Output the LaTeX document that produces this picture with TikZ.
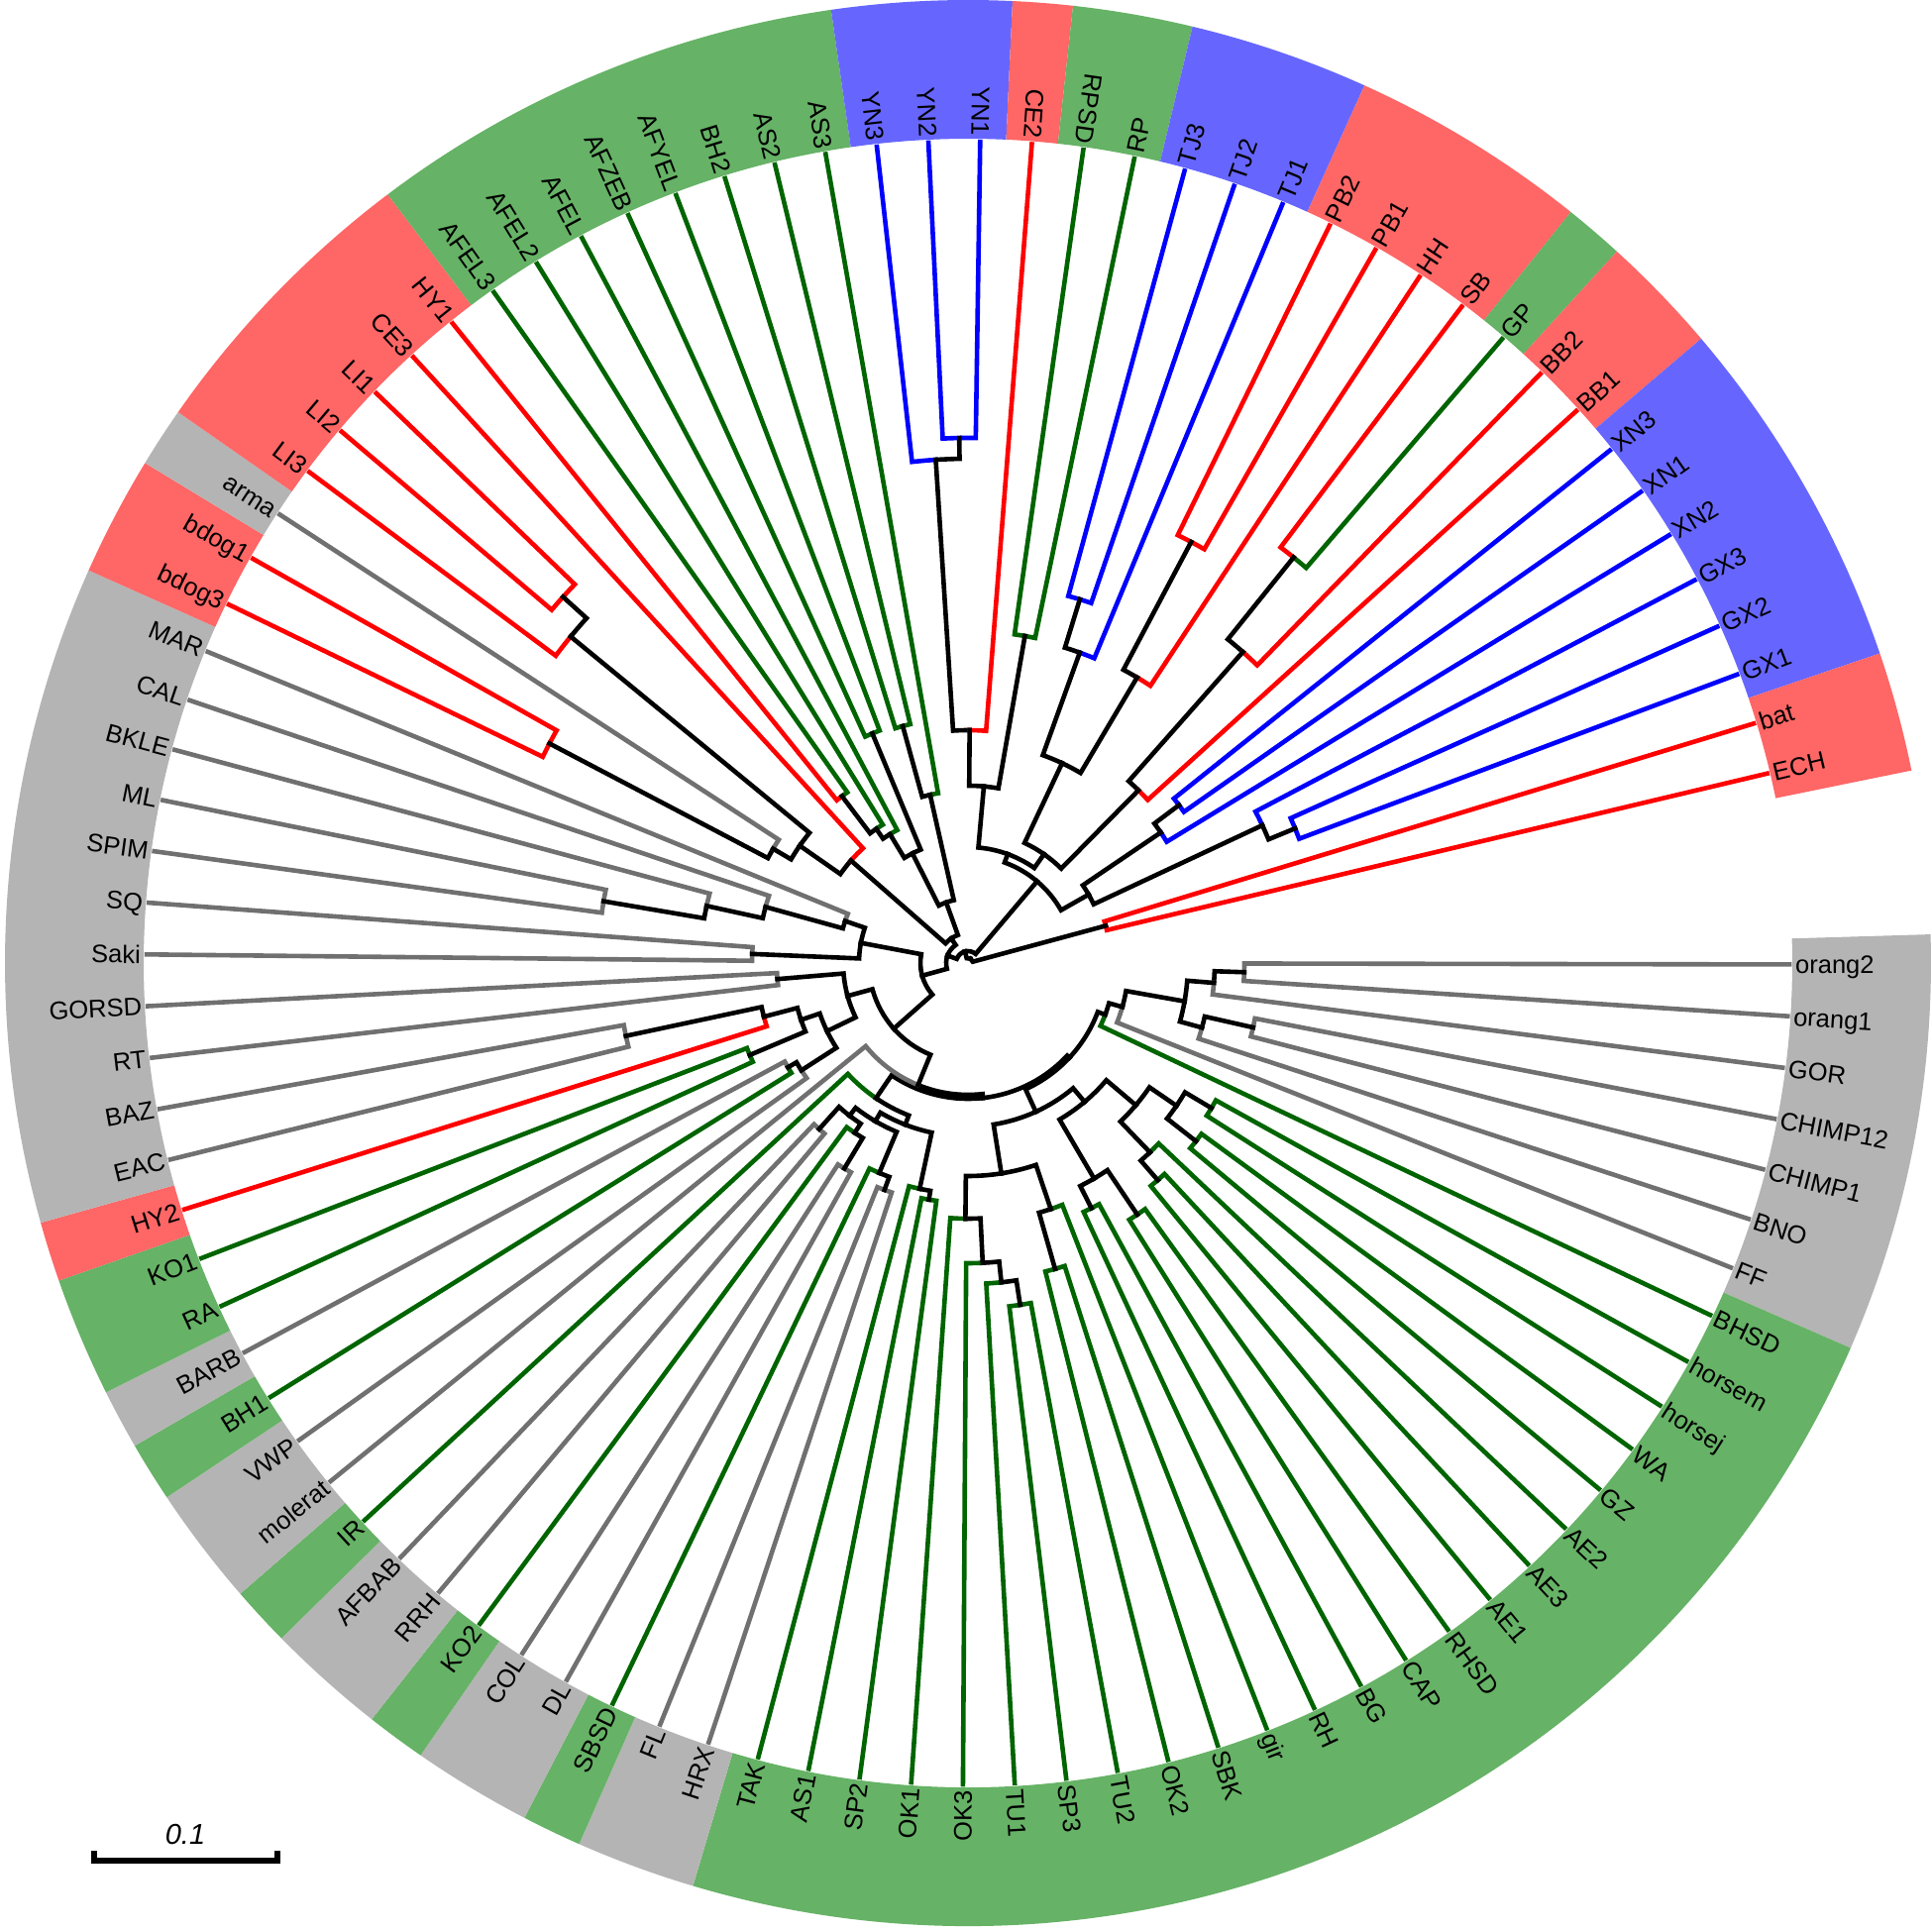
\documentclass[tikz,border=0pt]{standalone}
\usepackage{fontspec}
\setmainfont{Liberation Sans}
\usepackage{xcolor}
\usepackage{tikz}
\usetikzlibrary{calc}

\definecolor{trred}{RGB}{255,0,0}
\definecolor{trblue}{RGB}{0,0,255}
\definecolor{trgreen}{RGB}{0,100,0}
\definecolor{trgray}{RGB}{112,112,112}
\definecolor{bred}{RGB}{255,102,102}
\definecolor{bblue}{RGB}{102,102,255}
\definecolor{bgreen}{RGB}{102,178,102}
\definecolor{bgray}{RGB}{180,180,180}

% leaf: name, index, colour, text
\newcommand\leaf[4]{%
	\pgfmathsetmacro\tkang{359.9-(#2-1)*3.61}%
	\pgfmathsetmacro\tkrot{\tkang-180}%
	\expandafter\xdef\csname ta@#1\endcsname{\tkang}%
	\expandafter\xdef\csname tr@#1\endcsname{829}%
	\expandafter\xdef\csname tc@#1\endcsname{#3}%
	\coordinate (#1) at (\tkang:829pt);
	\ifnum#2<26 \def\tkflip{0}\else\ifnum#2>78 \def\tkflip{0}\else\def\tkflip{1}\fi\fi
	\ifnum\tkflip=1
		\node[lab,anchor=east,rotate=\tkrot] (t#1) at (\tkang:835pt) {#4};
	\else
		\node[lab,anchor=west,rotate=\tkang] (t#1) at (\tkang:835pt) {#4};
	\fi}
% branch from parent to child
\newcommand\edge[2]{%
	\edef\pa{\csname ta@#1\endcsname}\edef\pr{\csname tr@#1\endcsname}%
	\edef\ca{\csname ta@#2\endcsname}\edef\cc{\csname tc@#2\endcsname}%
	\draw[branch,draw=\cc] (#1) arc[start angle=\pa,end angle=\ca,radius=\pr pt] -- (#2);}
% clade: name, radius, child, child
\newcommand\clade[4]{%
	\pgfmathsetmacro\tkang{(\csname ta@#3\endcsname+\csname ta@#4\endcsname)/2}%
	\expandafter\xdef\csname ta@#1\endcsname{\tkang}%
	\expandafter\xdef\csname tr@#1\endcsname{#2}%
	\expandafter\xdef\csname tc@#1\endcsname{black}%
	\coordinate (#1) at (\tkang:#2pt);
	\edge{#1}{#3}\edge{#1}{#4}}
% coloured band: first index, last index, colour
\newcommand\band[3]{%
	\pgfmathsetmacro\bda{359.9-(#1-1)*3.61+1.805}%
	\pgfmathsetmacro\bdb{359.9-(#2-1)*3.61-1.805}%
	\fill[#3] (\bda:832pt) arc[start angle=\bda,end angle=\bdb,radius=832pt]
		-- (\bdb:972pt) arc[start angle=\bdb,end angle=\bda,radius=972pt] -- cycle;}

\begin{document}
\begin{tikzpicture}
	\tikzstyle{lab}=[font=\fontsize{25.5pt}{27pt}\selectfont, inner sep=0pt, text height=18pt, text depth=0pt]
	\tikzstyle{branch}=[line width=4.6pt, line join=miter, line cap=rect]
	\useasboundingbox (-977pt,-978pt) rectangle (973pt,972pt);

	% bands
	\band{1}{7}{bgray}	\band{8}{30}{bgreen}	\band{31}{32}{bgray}	\band{33}{33}{bgreen}
	\band{34}{35}{bgray}	\band{36}{36}{bgreen}	\band{37}{38}{bgray}	\band{39}{39}{bgreen}
	\band{40}{41}{bgray}	\band{42}{42}{bgreen}	\band{43}{43}{bgray}	\band{44}{45}{bgreen}
	\band{46}{46}{bred}	\band{47}{57}{bgray}	\band{58}{59}{bred}	\band{60}{60}{bgray}
	\band{61}{65}{bred}	\band{66}{73}{bgreen}	\band{74}{76}{bblue}	\band{77}{77}{bred}
	\band{78}{79}{bgreen}	\band{80}{82}{bblue}	\band{83}{86}{bred}	\band{87}{87}{bgreen}
	\band{88}{89}{bred}	\band{90}{95}{bblue}	\band{96}{97}{bred}

	% leaves
	\leaf{orang2}{1}{trgray}{orang2}	\leaf{orang1}{2}{trgray}{orang1}
	\leaf{GOR}{3}{trgray}{GOR}	\leaf{CHIMP12}{4}{trgray}{CHIMP12}
	\leaf{CHIMP1}{5}{trgray}{CHIMP1}	\leaf{BNO}{6}{trgray}{BNO}
	\leaf{FF}{7}{trgray}{FF}	\leaf{BHSD}{8}{trgreen}{BHSD}
	\leaf{horsem}{9}{trgreen}{horsem}	\leaf{horsej}{10}{trgreen}{horsej}
	\leaf{WA}{11}{trgreen}{WA}	\leaf{GZ}{12}{trgreen}{GZ}
	\leaf{AE2}{13}{trgreen}{AE2}	\leaf{AE3}{14}{trgreen}{AE3}
	\leaf{AE1}{15}{trgreen}{AE1}	\leaf{RHSD}{16}{trgreen}{RHSD}
	\leaf{CAP}{17}{trgreen}{CAP}	\leaf{BG}{18}{trgreen}{BG}
	\leaf{RH}{19}{trgreen}{RH}	\leaf{gir}{20}{trgreen}{gir}
	\leaf{SBK}{21}{trgreen}{SBK}	\leaf{OK2}{22}{trgreen}{OK2}
	\leaf{TU2}{23}{trgreen}{TU2}	\leaf{SP3}{24}{trgreen}{SP3}
	\leaf{TU1}{25}{trgreen}{TU1}	\leaf{OK3}{26}{trgreen}{OK3}
	\leaf{OK1}{27}{trgreen}{OK1}	\leaf{SP2}{28}{trgreen}{SP2}
	\leaf{AS1}{29}{trgreen}{AS1}	\leaf{TAK}{30}{trgreen}{TAK}
	\leaf{HRX}{31}{trgray}{HRX}	\leaf{FL}{32}{trgray}{FL}
	\leaf{SBSD}{33}{trgreen}{SBSD}	\leaf{DL}{34}{trgray}{DL}
	\leaf{COL}{35}{trgray}{COL}	\leaf{KO2}{36}{trgreen}{KO2}
	\leaf{RRH}{37}{trgray}{RRH}	\leaf{AFBAB}{38}{trgray}{AFBAB}
	\leaf{IR}{39}{trgreen}{IR}	\leaf{molerat}{40}{trgray}{molerat}
	\leaf{VWP}{41}{trgray}{VWP}	\leaf{BH1}{42}{trgreen}{BH1}
	\leaf{BARB}{43}{trgray}{BARB}	\leaf{RA}{44}{trgreen}{RA}
	\leaf{KO1}{45}{trgreen}{KO1}	\leaf{HY2}{46}{trred}{HY2}
	\leaf{EAC}{47}{trgray}{EAC}	\leaf{BAZ}{48}{trgray}{BAZ}
	\leaf{RT}{49}{trgray}{RT}	\leaf{GORSD}{50}{trgray}{GORSD}
	\leaf{Saki}{51}{trgray}{Saki}	\leaf{SQ}{52}{trgray}{SQ}
	\leaf{SPIM}{53}{trgray}{SPIM}	\leaf{ML}{54}{trgray}{ML}
	\leaf{BKLE}{55}{trgray}{BKLE}	\leaf{CAL}{56}{trgray}{CAL}
	\leaf{MAR}{57}{trgray}{MAR}	\leaf{bdog3}{58}{trred}{bdog3}
	\leaf{bdog1}{59}{trred}{bdog1}	\leaf{arma}{60}{trgray}{arma}
	\leaf{LI3}{61}{trred}{LI3}	\leaf{LI2}{62}{trred}{LI2}
	\leaf{LI1}{63}{trred}{LI1}	\leaf{CE3}{64}{trred}{CE3}
	\leaf{HY1}{65}{trred}{HY1}	\leaf{AFEL3}{66}{trgreen}{AFEL3}
	\leaf{AFEL2}{67}{trgreen}{AFEL2}	\leaf{AFEL}{68}{trgreen}{AFEL}
	\leaf{AFZEB}{69}{trgreen}{AFZEB}	\leaf{AFYEL}{70}{trgreen}{AFYEL}
	\leaf{BH2}{71}{trgreen}{BH2}	\leaf{AS2}{72}{trgreen}{AS2}
	\leaf{AS3}{73}{trgreen}{AS3}	\leaf{YN3}{74}{trblue}{YN3}
	\leaf{YN2}{75}{trblue}{YN2}	\leaf{YN1}{76}{trblue}{YN1}
	\leaf{CE2}{77}{trred}{CE2}	\leaf{RPSD}{78}{trgreen}{RPSD}
	\leaf{RP}{79}{trgreen}{RP}	\leaf{TJ3}{80}{trblue}{TJ3}
	\leaf{TJ2}{81}{trblue}{TJ2}	\leaf{TJ1}{82}{trblue}{TJ1}
	\leaf{PB2}{83}{trred}{PB2}	\leaf{PB1}{84}{trred}{PB1}
	\leaf{HH}{85}{trred}{HH}	\leaf{SB}{86}{trred}{SB}
	\leaf{GP}{87}{trgreen}{GP}	\leaf{BB2}{88}{trred}{BB2}
	\leaf{BB1}{89}{trred}{BB1}	\leaf{XN3}{90}{trblue}{XN3}
	\leaf{XN1}{91}{trblue}{XN1}	\leaf{XN2}{92}{trblue}{XN2}
	\leaf{GX3}{93}{trblue}{GX3}	\leaf{GX2}{94}{trblue}{GX2}
	\leaf{GX1}{95}{trblue}{GX1}	\leaf{bat}{96}{trred}{bat}
	\leaf{ECH}{97}{trred}{ECH}

	% apes
	\clade{h1}{279}{orang2}{orang1}	\clade{h2}{249}{h1}{GOR}
	\clade{h3}{295}{CHIMP12}{CHIMP1}	\clade{h4}{245}{h3}{BNO}
	\clade{h5}{222}{h2}{h4}	\clade{h6}{162}{h5}{FF}
	\clade{h7}{148}{h6}{BHSD}
	% lower right
	\clade{q1}{286}{horsem}{horsej}	\clade{q2}{292}{WA}{GZ}
	\clade{q3}{255}{q1}{q2}	\clade{q4}{291}{AE3}{AE1}
	\clade{q5}{265}{AE2}{q4}	\clade{q6}{222}{q3}{q5}
	\clade{q7}{306}{RHSD}{CAP}	\clade{q8}{277}{BG}{RH}
	\clade{q9}{252}{q7}{q8}	\clade{q10}{183}{q6}{q9}
	\clade{q11}{321}{SBK}{OK2}	\clade{q12}{262}{gir}{q11}
	\clade{q13}{349}{TU2}{SP3}	\clade{q14}{324}{q13}{TU1}
	\clade{q15}{303}{q14}{OK3}	\clade{q16}{258}{q15}{OK1}
	\clade{q17}{215}{q12}{q16}	\clade{q18}{165}{q10}{q17}
	\clade{hq}{140}{h7}{q18}
	% bottom
	\clade{b1}{242}{AS1}{SP2}	\clade{b2}{233}{TAK}{b1}
	\clade{b3}{244}{HRX}{FL}	\clade{b4}{230}{b3}{SBSD}
	\clade{b5}{242}{DL}{COL}	\clade{b6}{206}{b5}{KO2}
	\clade{b7}{225}{RRH}{AFBAB}	\clade{b8}{195}{b6}{b7}
	\clade{b9}{185}{b4}{b8}	\clade{b10}{175}{b2}{b9}
	\clade{b11}{165}{b10}{IR}	\clade{big1}{137}{hq}{b11}
	\clade{big}{133}{big1}{molerat}
	% lower left
	\clade{l1}{353}{BAZ}{EAC}	\clade{l2}{213}{l1}{HY2}
	\clade{l3}{239}{KO1}{RA}	\clade{l4}{178}{l2}{l3}
	\clade{l5}{210}{BARB}{BH1}	\clade{l6}{200}{l5}{VWP}
	\clade{l7}{158}{l4}{l6}	\clade{l8}{193}{GORSD}{RT}
	\clade{l9}{126}{l8}{l7}	\clade{a1}{100}{big}{l9}
	% left
	\clade{g1}{373}{SPIM}{ML}	\clade{g2}{270}{g1}{BKLE}
	\clade{g3}{212}{g2}{CAL}	\clade{g4}{131}{g3}{MAR}
	\clade{g5}{218}{Saki}{SQ}	\clade{g6}{110}{g5}{g4}
	\clade{a2}{48}{a1}{g6}
	% upper left
	\clade{x1}{477}{bdog3}{bdog1}	\clade{x2}{228}{x1}{arma}
	\clade{x3}{551}{LI2}{LI1}	\clade{x4}{519}{LI3}{x3}
	\clade{x5}{207}{x2}{x4}	\clade{x6}{157}{x5}{CE3}
	\clade{f1}{211}{HY1}{AFEL3}	\clade{f2}{164}{f1}{AFEL2}
	\clade{f3}{152}{f2}{AFEL}	\clade{f4}{251}{AFZEB}{AFYEL}
	\clade{f5}{124}{f3}{f4}	\clade{f6}{248}{BH2}{AS2}
	\clade{f7}{174}{f6}{AS3}	\clade{f8}{65}{f5}{f7}
	\clade{xf}{30}{x6}{f8}	\clade{a3}{22}{a2}{xf}
	% upper right
	\clade{u1}{530}{YN2}{YN1}	\clade{u2}{509}{YN3}{u1}
	\clade{u3}{235}{u2}{CE2}	\clade{u4}{335}{RPSD}{RP}
	\clade{u5}{179}{u3}{u4}	\clade{u6}{384}{TJ3}{TJ2}
	\clade{u7}{333}{u6}{TJ1}	\clade{u8}{481}{PB2}{PB1}
	\clade{u9}{335}{u8}{HH}	\clade{u10}{223}{u7}{u9}
	\clade{u11}{525}{SB}{GP}	\clade{u12}{419}{u11}{BB2}
	\clade{u13}{245}{u12}{BB1}	\clade{u14}{134}{u10}{u13}
	\clade{u15}{117}{u5}{u14}	\clade{u16}{266}{XN3}{XN1}
	\clade{u17}{235}{u16}{XN2}	\clade{u18}{357}{GX2}{GX1}
	\clade{u19}{328}{GX3}{u18}	\clade{u20}{140}{u17}{u19}
	\clade{u21}{108}{u15}{u20}	\clade{a4}{12}{a3}{u21}
	\clade{w1}{144}{bat}{ECH}	\clade{root}{5}{a4}{w1}

	% scale bar
	\coordinate (sbl) at (-882pt,-906pt);
	\coordinate (sbr) at (-697pt,-906pt);
	\draw[line width=5.5pt] ($(sbl)+(0,10pt)$) -- (sbl) -- (sbr) -- ($(sbr)+(0,10pt)$);
	\node[font=\fontsize{29pt}{31pt}\selectfont\itshape] (sbt) at (-790pt,-880pt) {0.1};
\end{tikzpicture}
\end{document}
